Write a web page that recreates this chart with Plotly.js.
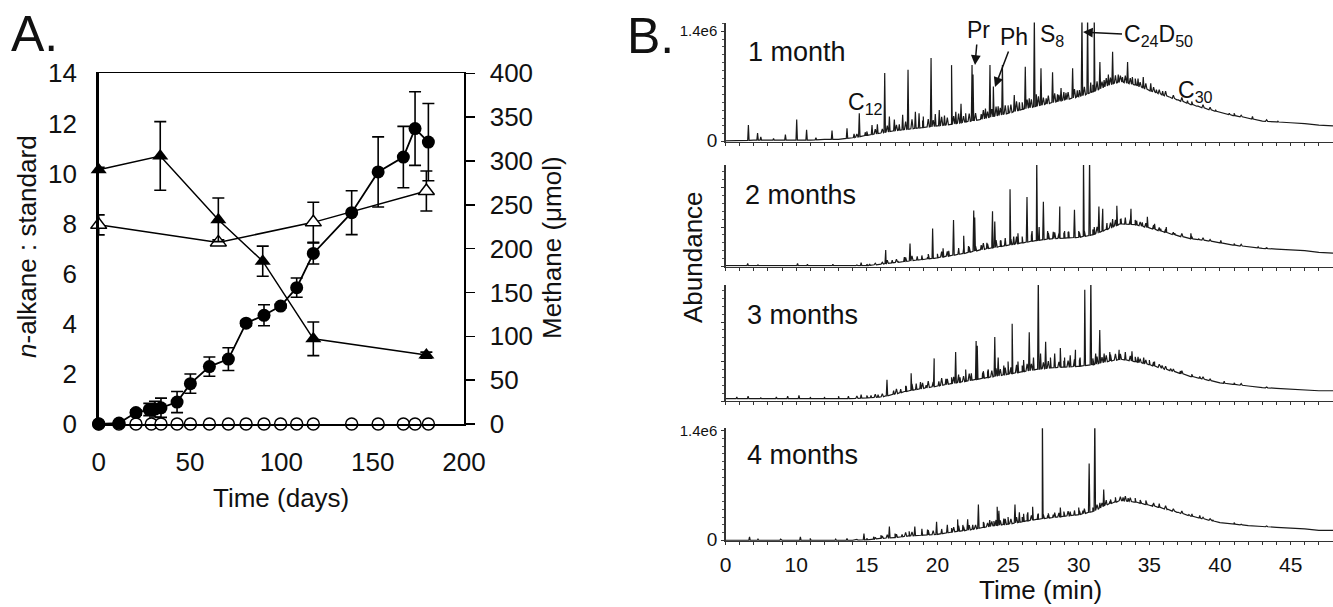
<!DOCTYPE html>
<html>
<head>
<meta charset="utf-8">
<script src="https://cdn.plot.ly/plotly-3.0.1.min.js"></script>
<style>html,body{margin:0;padding:0;background:#fff;}#chart{width:1333px;height:607px;}</style>
</head>
<body>
<div id="chart"></div>
<script>
// ---------------- Panel A data ----------------
const ch4Days = [0, 11.1, 20.4, 27.7, 30.8, 34.1, 42.9, 50.2, 60.6, 71, 80.7, 90.5, 99.6, 108.4, 117.5, 138.5, 153, 166.8, 173.2, 180.5];
const ch4Umol = [0, 1, 13, 16.5, 17, 18.5, 25, 46, 65.5, 74, 115, 124, 134.5, 155.5, 194.5, 241, 287.5, 304.5, 337, 321.5];
const ch4Err  = [0, 0, 3, 7, 9, 11, 12, 11, 11, 13, 3, 12, 2, 11, 12, 25, 40, 35, 42, 44];
const ctrlDays = [0, 11.1, 20.4, 28.8, 34.1, 42.9, 50.2, 60.6, 71, 80.7, 90.5, 99.6, 108.4, 117.5, 138.5, 153, 166.8, 173.2, 180.5];
const ctrlUmol = [0, 0, 0, 0, 0, 0, 0, 0, 0, 0, 0, 0, 0, 0, 0, 0, 0, 0, 0];
const triFDays = [0, 33.7, 65.5, 89.8, 117.5, 179.4];
const triFVal  = [10.15, 10.7, 8.15, 6.5, 3.4, 2.75];
const triFErr  = [0.1, 1.37, 0.87, 0.6, 0.67, 0.12];
const triODays = [0, 65.5, 117.5, 179.4];
const triOVal  = [7.95, 7.25, 8.05, 9.3];
const triOErr  = [0.4, 0.1, 0.8, 0.8];
const leftTicks = [0, 2, 4, 6, 8, 10, 12, 14];
const rightTicks = [0, 50, 100, 150, 200, 250, 300, 350, 400];
const dayTicks = [0, 50, 100, 150, 200];

// ---------------- Panel B data (abundance, units of 1e6) ----------------
const gcTime = [5,6,7,8,9,10,11,12,13,14,15,16,17,18,19,20,21,22,23,24,25,26,27,28,29,30,31,32,33,34,35,36,37,38,39,40,41,42,43,44,45,46,47,48];
const base1 = [0.01,0.01,0.02,0.02,0.02,0.02,0.02,0.03,0.03,0.05,0.08,0.11,0.14,0.16,0.18,0.2,0.22,0.25,0.28,0.32,0.36,0.41,0.45,0.49,0.53,0.57,0.63,0.71,0.76,0.72,0.65,0.59,0.53,0.47,0.42,0.37,0.33,0.30,0.26,0.25,0.24,0.23,0.21,0.2];
const base2 = [0.01,0.01,0.01,0.01,0.01,0.01,0.01,0.01,0.01,0.01,0.01,0.03,0.05,0.07,0.09,0.11,0.14,0.17,0.21,0.24,0.27,0.30,0.33,0.35,0.36,0.37,0.40,0.47,0.54,0.53,0.49,0.44,0.39,0.35,0.33,0.30,0.27,0.25,0.23,0.22,0.21,0.20,0.18,0.17];
const base3 = [0.03,0.03,0.03,0.03,0.03,0.03,0.03,0.03,0.03,0.03,0.04,0.05,0.09,0.13,0.16,0.19,0.22,0.25,0.28,0.31,0.34,0.37,0.40,0.42,0.43,0.44,0.46,0.50,0.53,0.50,0.46,0.41,0.36,0.31,0.27,0.23,0.21,0.19,0.17,0.16,0.15,0.14,0.13,0.13];
const base4 = [0.005,0.005,0.005,0.005,0.005,0.005,0.005,0.005,0.005,0.005,0.01,0.03,0.04,0.06,0.07,0.08,0.11,0.13,0.16,0.19,0.21,0.24,0.27,0.29,0.31,0.33,0.37,0.46,0.51,0.49,0.45,0.41,0.36,0.31,0.27,0.23,0.21,0.19,0.18,0.17,0.16,0.15,0.13,0.13];

// resolved peaks: retention time and absolute apex height
const pk1T = [6.62,7.27,7.5,8.4,9.24,10.04,10.74,11.4,12.54,13.6,14.1,14.47,14.9,15.37,15.75,16.27,16.6,16.95,17.3,17.54,17.92,18.44,18.7,19.0,19.55,19.85,20.13,20.5,21.0,21.3,21.67,22.0,22.45,22.52,23.1,23.4,23.72,23.96,24.3,24.6,25.0,25.44,25.8,26.22,26.5,26.86,27.0,27.33,27.7,28.15,28.5,28.75,29.1,29.57,29.9,30.23,30.63,30.85,31.1,31.5,31.8,32.1,32.4,32.8,33.1,33.46,33.8,34.2,34.57,35.1,35.5,35.94,36.4,37.0,37.7,38.4,39.7,40.66,42.3,44.1];
const pk1H = [0.21,0.11,0.06,0.04,0.09,0.28,0.15,0.05,0.14,0.17,0.1,0.36,0.12,0.21,0.22,0.87,0.32,0.28,0.22,0.34,0.91,0.38,0.36,0.32,1.06,0.35,0.40,0.33,0.97,0.38,0.48,0.36,0.97,0.85,0.35,0.42,0.97,0.70,0.45,0.97,0.46,0.59,0.5,0.95,0.55,1.6,0.6,0.93,0.55,0.88,0.6,0.68,0.62,0.93,0.65,1.6,1.6,0.75,1.6,1.01,0.78,0.85,1.14,0.85,0.82,1.01,0.82,0.8,0.82,0.74,0.66,0.64,0.56,0.52,0.52,0.45,0.40,0.36,0.32,0.26];
const pk2T = [6.57,7.3,10.1,10.8,12.6,14.6,15.2,16.34,16.8,17.2,17.66,18.06,18.57,18.9,19.3,19.66,20.0,20.4,20.8,21.14,21.5,21.86,22.2,22.57,22.64,23.1,23.5,23.9,24.06,24.5,24.8,25.14,25.4,25.7,26.0,26.34,26.7,27.03,27.2,27.5,27.8,28.2,28.66,29.0,29.3,29.7,30.0,30.34,30.77,31.1,31.43,31.7,32.0,32.4,32.7,33.0,33.3,33.7,34.1,34.5,34.86,35.37,35.8,36.2,36.8,37.94,38.5,40.06,42.7];
const pk2H = [0.04,0.02,0.04,0.03,0.03,0.05,0.03,0.21,0.08,0.07,0.12,0.29,0.13,0.14,0.12,0.48,0.16,0.23,0.2,0.59,0.22,0.39,0.26,0.71,0.62,0.27,0.3,0.70,0.57,0.33,0.36,0.98,0.38,0.42,0.38,0.88,0.45,1.4,0.5,0.82,0.45,0.44,0.76,0.45,0.44,0.72,0.45,1.4,1.4,0.5,0.76,0.73,0.55,0.6,0.77,0.6,0.62,0.73,0.58,0.56,0.63,0.54,0.48,0.5,0.42,0.42,0.35,0.33,0.25];
const pk3T = [5.8,6.6,7.5,8.6,9.4,10.2,11.0,12.0,13.0,13.7,14.6,15.3,15.8,16.43,16.9,17.4,17.8,18.14,18.5,18.8,19.2,19.77,20.1,20.6,21.0,21.29,21.6,22.0,22.4,22.74,22.82,23.2,23.6,24.06,24.3,24.7,25.0,25.29,25.7,26.1,26.5,26.8,27.14,27.3,27.66,28.0,28.3,28.7,29.0,29.4,29.77,30.1,30.43,30.86,31.2,31.49,31.8,32.2,32.86,33.3,33.77,34.2,34.6,35.0,35.37,35.9,36.5,37.2,38.57,40.3,41.8];
const pk3H = [0.05,0.06,0.04,0.05,0.06,0.07,0.05,0.05,0.06,0.06,0.08,0.07,0.08,0.27,0.13,0.15,0.18,0.35,0.22,0.24,0.2,0.54,0.25,0.28,0.3,0.62,0.3,0.4,0.35,0.76,0.7,0.36,0.4,0.81,0.55,0.45,0.5,0.98,0.5,0.52,0.87,0.55,1.6,0.6,0.75,0.55,0.6,0.67,0.55,0.58,0.65,0.55,1.41,1.6,0.6,0.9,0.6,0.62,0.65,0.62,0.63,0.56,0.55,0.52,0.5,0.45,0.41,0.38,0.31,0.25,0.2];
const pk4T = [6.7,7.3,8.9,10.3,11.0,12.8,13.6,14.8,15.5,16.0,16.6,17.0,17.5,18.0,18.4,18.9,19.3,19.94,20.3,20.7,21.0,21.43,21.8,22.14,22.5,22.9,23.3,23.7,24.0,24.23,24.35,24.7,25.0,25.49,25.8,26.1,26.4,26.74,27.1,27.43,27.8,28.2,28.7,29.0,29.4,29.7,30.0,30.3,30.74,31.14,31.5,31.77,32.2,32.6,33.14,33.5,34.0,34.4,34.8,35.2,35.7,36.3,37.0,37.8,38.57,39.5];
const pk4H = [0.05,0.02,0.02,0.05,0.03,0.02,0.03,0.09,0.05,0.07,0.18,0.09,0.08,0.12,0.18,0.15,0.14,0.24,0.14,0.2,0.16,0.27,0.2,0.27,0.2,0.46,0.22,0.26,0.25,0.43,0.38,0.28,0.3,0.46,0.36,0.34,0.36,0.43,0.33,1.6,0.32,0.33,0.42,0.36,0.37,0.38,0.42,0.38,0.98,1.6,0.48,0.65,0.5,0.52,0.55,0.54,0.53,0.5,0.48,0.45,0.47,0.4,0.36,0.33,0.32,0.26];

// unresolved minor peaks riding on the hump: retention time and height above the hump
const minorT = [14.3,15.0,15.6,16.1,16.45,17.1,17.75,18.2,18.95,19.35,19.7,20.3,20.7,21.15,21.5,21.85,22.25,22.7,23.25,23.55,23.85,24.15,24.45,24.8,25.2,25.6,26.0,26.35,26.65,27.15,27.5,27.85,28.3,28.6,28.95,29.25,29.7,30.05,30.4,31.0,31.3,31.65,31.95,32.25,32.6,32.95,33.3,33.65,34.0,34.35,34.75,35.3,35.7,36.15,36.7,37.3,38.0,38.8,39.3,41.0,41.5,43.3];
const minorH1 = [0.04,0.05,0.06,0.05,0.08,0.07,0.1,0.12,0.09,0.1,0.08,0.11,0.09,0.1,0.12,0.08,0.1,0.09,0.11,0.08,0.1,0.12,0.09,0.11,0.1,0.12,0.09,0.11,0.1,0.12,0.09,0.1,0.11,0.08,0.1,0.09,0.11,0.08,0.1,0.09,0.11,0.08,0.1,0.09,0.1,0.08,0.09,0.07,0.08,0.06,0.07,0.06,0.05,0.06,0.04,0.05,0.04,0.04,0.03,0.03,0.02,0.02];
const minorH2 = [0.01,0.02,0.02,0.02,0.04,0.04,0.05,0.06,0.05,0.06,0.05,0.07,0.06,0.07,0.08,0.06,0.07,0.06,0.08,0.06,0.07,0.09,0.07,0.08,0.07,0.09,0.07,0.08,0.07,0.09,0.07,0.08,0.08,0.06,0.07,0.07,0.08,0.06,0.07,0.07,0.08,0.06,0.07,0.07,0.08,0.06,0.07,0.06,0.06,0.05,0.05,0.05,0.04,0.04,0.03,0.04,0.03,0.03,0.02,0.02,0.02,0.01];
const minorH3 = [0.03,0.03,0.04,0.04,0.06,0.06,0.07,0.08,0.07,0.08,0.06,0.09,0.07,0.08,0.1,0.07,0.09,0.07,0.09,0.07,0.08,0.1,0.08,0.09,0.08,0.1,0.08,0.09,0.08,0.1,0.08,0.09,0.09,0.07,0.08,0.08,0.09,0.07,0.08,0.08,0.09,0.07,0.08,0.08,0.08,0.07,0.07,0.06,0.06,0.05,0.05,0.05,0.04,0.04,0.03,0.04,0.03,0.03,0.02,0.02,0.02,0.01];
const minorH4 = [0.01,0.02,0.02,0.03,0.04,0.04,0.05,0.05,0.05,0.06,0.05,0.06,0.05,0.06,0.07,0.05,0.06,0.05,0.07,0.05,0.06,0.07,0.06,0.07,0.06,0.07,0.06,0.07,0.06,0.07,0.05,0.06,0.06,0.05,0.06,0.06,0.06,0.05,0.06,0.05,0.06,0.05,0.06,0.05,0.06,0.05,0.06,0.05,0.05,0.04,0.05,0.04,0.04,0.04,0.03,0.03,0.03,0.02,0.02,0.02,0.01,0.01];

const monthLabels = ["1 month", "2 months", "3 months", "4 months"];
const gcTickVals = [5, 10, 15, 20, 25, 30, 35, 40, 45];
const gcTickText = ["0", "10", "15", "20", "25", "30", "35", "40", "45"];

// ---------------- helpers ----------------
function baseAt(t, base) {
  const i = Math.max(0, Math.min(gcTime.length - 2, Math.floor(t - gcTime[0])));
  const f = (t - gcTime[i]) / (gcTime[i + 1] - gcTime[i]);
  return base[i] + f * (base[i + 1] - base[i]);
}
function chrom(base, pT, pH, mH) {
  const pts = gcTime.map((t, i) => [t, base[i]]);
  const w = 0.05;
  pT.forEach((t, i) => {
    const b = baseAt(t, base);
    pts.push([t - w, b], [t, Math.max(b, pH[i])], [t + w, b]);
  });
  minorT.forEach((t, i) => {
    const b = baseAt(t, base);
    pts.push([t - 0.08, b], [t, b + mH[i]], [t + 0.08, b]);
  });
  pts.sort((a, b) => a[0] - b[0]);
  return { x: pts.map(p => p[0]), y: pts.map(p => p[1]) };
}

const W = 1333, H = 607;
const FONT = "Liberation Sans, Arial, Helvetica, sans-serif";
const px = v => v / W;
const py = v => 1 - v / H;

const traces = [];
// Panel A
traces.push({ x: ctrlDays, y: ctrlUmol, xaxis: 'x', yaxis: 'y2', mode: 'markers', type: 'scatter',
  marker: { symbol: 'circle', size: 12, color: '#fff', line: { color: '#000', width: 1.5 } }, cliponaxis: false });
traces.push({ x: ch4Days, y: ch4Umol, xaxis: 'x', yaxis: 'y2', mode: 'lines+markers', type: 'scatter',
  line: { color: '#000', width: 1.8 }, marker: { symbol: 'circle', size: 13, color: '#000' },
  error_y: { type: 'data', array: ch4Err, visible: true, color: '#000', thickness: 1.6, width: 6 }, cliponaxis: false });
traces.push({ x: triODays, y: triOVal, xaxis: 'x', yaxis: 'y', mode: 'lines+markers', type: 'scatter',
  line: { color: '#000', width: 1.5 }, marker: { symbol: 'triangle-up', size: 14, color: '#fff', line: { color: '#000', width: 1.5 } },
  error_y: { type: 'data', array: triOErr, visible: true, color: '#000', thickness: 1.6, width: 6 }, cliponaxis: false });
traces.push({ x: triFDays, y: triFVal, xaxis: 'x', yaxis: 'y', mode: 'lines+markers', type: 'scatter',
  line: { color: '#000', width: 1.5 }, marker: { symbol: 'triangle-up', size: 14, color: '#000' },
  error_y: { type: 'data', array: triFErr, visible: true, color: '#000', thickness: 1.6, width: 6 }, cliponaxis: false });

// Panel B
const bases = [base1, base2, base3, base4];
const pkTs = [pk1T, pk2T, pk3T, pk4T];
const pkHs = [pk1H, pk2H, pk3H, pk4H];
const minorHs = [minorH1, minorH2, minorH3, minorH4];
for (let k = 0; k < 4; k++) {
  const c = chrom(bases[k], pkTs[k], pkHs[k], minorHs[k]);
  traces.push({ x: c.x, y: c.y, xaxis: 'x' + (k + 2), yaxis: 'y' + (k + 3), mode: 'lines', type: 'scatter',
    line: { color: '#1a1a1a', width: 1.2 }, hoverinfo: 'skip' });
}

// Panel B geometry (pixel rows: top, bottom, axis max)
const gcRows = [[22.5, 141.7, 1.51], [165, 266.5, 1.286], [285, 401, 1.47], [428.3, 540.7, 1.425]];
const gcLeft = 725.5;

const layout = {
  width: W, height: H, margin: { l: 0, r: 0, t: 0, b: 0 },
  paper_bgcolor: '#fff', plot_bgcolor: 'rgba(0,0,0,0)', showlegend: false,
  font: { family: FONT, color: '#111', size: 20 },
  xaxis: { domain: [px(98.7), px(464)], range: [0, 200], tickvals: dayTicks, anchor: 'y',
    showline: true, mirror: true, linecolor: '#000', linewidth: 1.8, ticks: '', showgrid: false, zeroline: false,
    tickfont: { size: 26, family: FONT, color: '#111' }, ticklabelstandoff: 14 },
  yaxis: { domain: [py(424), py(73.3)], range: [0, 14], tickvals: leftTicks, anchor: 'x',
    showline: true, linecolor: '#000', linewidth: 2.5, ticks: '', showgrid: false, zeroline: false,
    tickfont: { size: 26, family: FONT, color: '#111' }, ticklabelstandoff: 14 },
  yaxis2: { overlaying: 'y', side: 'right', anchor: 'x', range: [0, 400], tickvals: rightTicks,
    showline: true, linecolor: '#000', linewidth: 1.5, ticks: 'outside', ticklen: 9, tickwidth: 1.5, tickcolor: '#000',
    showgrid: false, zeroline: false, tickfont: { size: 26, family: FONT, color: '#111' }, ticklabelstandoff: 10 },
  annotations: []
};

for (let k = 0; k < 4; k++) {
  const [top, bot, ymax] = gcRows[k];
  const xa = 'xaxis' + (k + 2), ya = 'yaxis' + (k + 3);
  const last = (k === 3);
  layout[xa] = { domain: [px(gcLeft), 1], range: [5, 48], anchor: 'y' + (k + 3),
    showline: true, linecolor: '#333', linewidth: 1.2, showgrid: false, zeroline: false,
    tickmode: 'array', tickvals: gcTickVals, ticktext: gcTickText, showticklabels: last,
    ticks: 'outside', ticklen: 3, tickwidth: 1, tickcolor: '#333',
    minor: { tickmode: 'linear', tick0: 5, dtick: 1, ticks: 'outside', ticklen: 3, tickwidth: 1, tickcolor: '#333' },
    tickfont: { size: 21, family: FONT, color: '#111' }, ticklabelstandoff: 2 };
  const labelled = (k === 0 || k === 3);
  const yax = { domain: [py(bot), py(top)], range: [0, ymax], anchor: 'x' + (k + 2),
    showline: true, linecolor: '#333', linewidth: 1.2, showgrid: false, zeroline: false,
    ticks: 'outside', ticklen: 3, tickwidth: 1, tickcolor: '#333',
    minor: { tickmode: 'linear', tick0: 0, dtick: 0.1, ticks: 'outside', ticklen: 2.5, tickwidth: 1, tickcolor: '#555' },
    tickfont: { size: 15, family: FONT, color: '#111' }, ticklabelstandoff: 1 };
  if (labelled) {
    yax.tickmode = 'array'; yax.tickvals = [0, 1.4];
    yax.ticktext = ['<span style="font-size:19px">0</span>', '1.4e6'];
  } else {
    yax.tickmode = 'linear'; yax.tick0 = 0; yax.dtick = 0.5; yax.showticklabels = false;
  }
  layout[ya] = yax;
}

function txt(text, x, y, size, opts) {
  return Object.assign({ text: text, x: px(x), y: py(y), xref: 'paper', yref: 'paper', showarrow: false,
    font: { size: size, family: FONT, color: '#111' }, xanchor: 'center', yanchor: 'middle' }, opts || {});
}
// labelled arrow: head at (hx,hy), label centred at (tx,ty)
function labelArrow(text, hx, hy, tx, ty, size) {
  return { text: text, x: px(hx), y: py(hy), xref: 'paper', yref: 'paper', showarrow: true,
    ax: tx - hx, ay: ty - hy, axref: 'pixel', ayref: 'pixel', arrowhead: 2, arrowsize: 1.3, arrowwidth: 1.5,
    arrowcolor: '#111', standoff: 0, startstandoff: 0, font: { size: size, family: FONT, color: '#111' } };
}

layout.annotations.push(
  txt('A.', 34, 34, 50),
  txt('B.', 650, 36, 50),
  txt('<i>n</i>-alkane : standard', 27, 247, 26, { textangle: -90 }),
  txt('Methane (μmol)', 552, 248, 26, { textangle: -90 }),
  txt('Time (days)', 281, 498, 26),
  txt('Abundance', 693, 257, 26, { textangle: -90 }),
  txt('Time (min)', 1040, 590, 26),
  txt(monthLabels[0], 746, 52, 27, { xanchor: 'left' }),
  txt(monthLabels[1], 743, 195, 27, { xanchor: 'left' }),
  txt(monthLabels[2], 745, 315, 27, { xanchor: 'left' }),
  txt(monthLabels[3], 745, 455, 27, { xanchor: 'left' }),
  txt('C<sub>12</sub>', 846, 104, 23, { xanchor: 'left' }),
  txt('S<sub>8</sub>', 1038, 36, 23, { xanchor: 'left' }),
  txt('C<sub>30</sub>', 1176, 92, 23, { xanchor: 'left' }),
  labelArrow('Pr', 975, 65, 978, 30, 23),
  labelArrow('Ph', 995, 87, 1014, 37, 23),
  labelArrow('C<sub>24</sub>D<sub>50</sub>', 1083, 32, 1158, 36, 23)
);

Plotly.newPlot('chart', traces, layout, { staticPlot: true, displayModeBar: false });
</script>
</body>
</html>
